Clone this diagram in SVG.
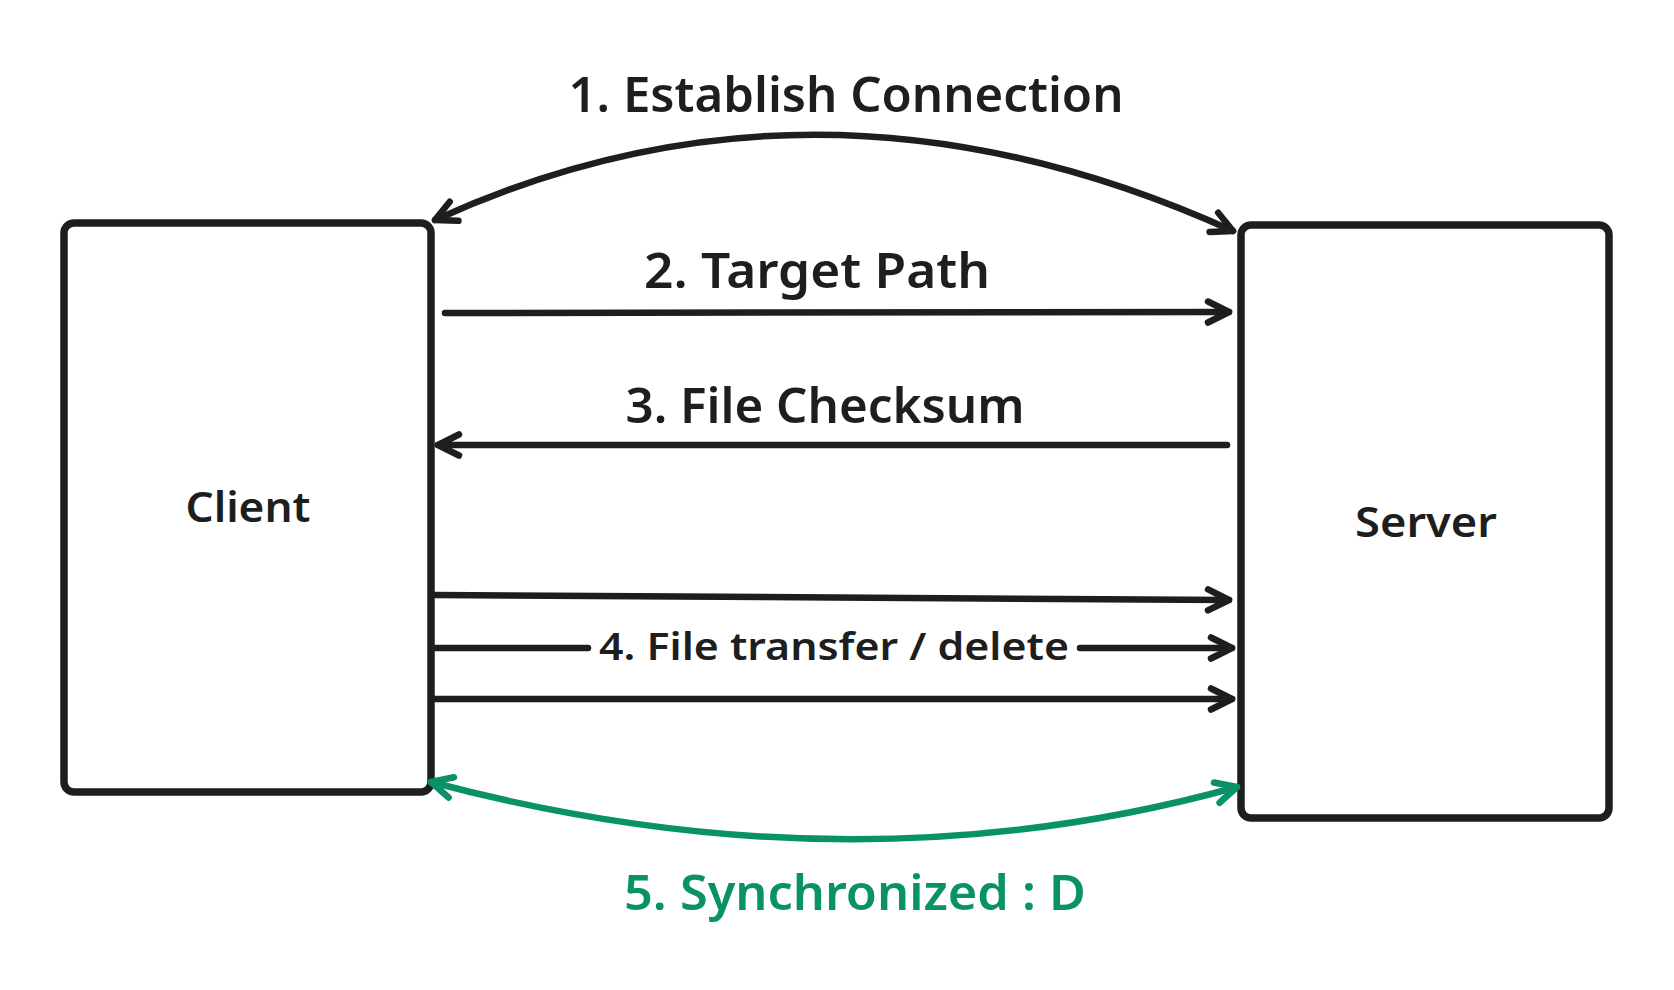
<svg xmlns="http://www.w3.org/2000/svg" width="1674" height="990" viewBox="0 0 1674 990">
<style>
.box{fill:#ffffff;stroke:#1e1e1e;stroke-width:7.5;}
.lbl{font-family:"Noto Sans","DejaVu Sans",sans-serif;font-weight:600;fill:#1e1e1e;text-anchor:middle;}
.ln{fill:none;stroke:#1e1e1e;stroke-width:6.5;stroke-linecap:round;}
.gln{fill:none;stroke:#099268;stroke-width:6.5;stroke-linecap:round;}
</style>
<defs>
<marker id="ah" viewBox="-26 -16 32 32" refX="0" refY="0" markerWidth="32" markerHeight="32" markerUnits="userSpaceOnUse" orient="auto-start-reverse">
<path d="M-21,-10.5 L0,0 L-21,10.5" fill="none" stroke="#1e1e1e" stroke-width="6.5" stroke-linecap="round" stroke-linejoin="round"/>
</marker>
<marker id="ahg" viewBox="-26 -16 32 32" refX="0" refY="0" markerWidth="32" markerHeight="32" markerUnits="userSpaceOnUse" orient="auto-start-reverse">
<path d="M-21,-10.5 L0,0 L-21,10.5" fill="none" stroke="#099268" stroke-width="6.5" stroke-linecap="round" stroke-linejoin="round"/>
</marker>
</defs>
<rect width="1674" height="990" fill="#ffffff"/>
<g id="client">
<rect class="box" x="64" y="223" width="367" height="569" rx="10"/>
<text class="lbl" x="248" y="522" font-size="42" textLength="125" lengthAdjust="spacingAndGlyphs">Client</text>
</g>
<g id="server">
<rect class="box" x="1241" y="225" width="368" height="593" rx="10"/>
<text class="lbl" x="1426" y="537" font-size="42" textLength="142" lengthAdjust="spacingAndGlyphs">Server</text>
</g>
<g id="connectors">
<path class="ln" d="M435,220 Q820,44 1233,231" marker-start="url(#ah)" marker-end="url(#ah)"/>
<text class="lbl" x="846" y="112" font-size="48" textLength="555" lengthAdjust="spacingAndGlyphs">1. Establish Connection</text>
<path class="ln" d="M445,313 L1229,312" marker-end="url(#ah)"/>
<text class="lbl" x="817" y="288" font-size="48" textLength="346" lengthAdjust="spacingAndGlyphs">2. Target Path</text>
<path class="ln" d="M1227,445 L438,445" marker-end="url(#ah)"/>
<text class="lbl" x="825" y="423" font-size="48" textLength="399" lengthAdjust="spacingAndGlyphs">3. File Checksum</text>
<path class="ln" d="M435,595 L1229,600" marker-end="url(#ah)"/>
<path class="ln" d="M435,648 L588,648"/>
<path class="ln" d="M1080,648 L1232,648" marker-end="url(#ah)"/>
<text class="lbl" x="834" y="660" font-size="37" textLength="470" lengthAdjust="spacingAndGlyphs">4. File transfer / delete</text>
<path class="ln" d="M435,699 L1232,699" marker-end="url(#ah)"/>
<path class="gln" d="M431,782 Q852,894 1237,787" marker-start="url(#ahg)" marker-end="url(#ahg)"/>
<text class="lbl" x="855" y="910" font-size="48" style="fill:#099268" textLength="462" lengthAdjust="spacingAndGlyphs">5. Synchronized : D</text>
</g>
</svg>
